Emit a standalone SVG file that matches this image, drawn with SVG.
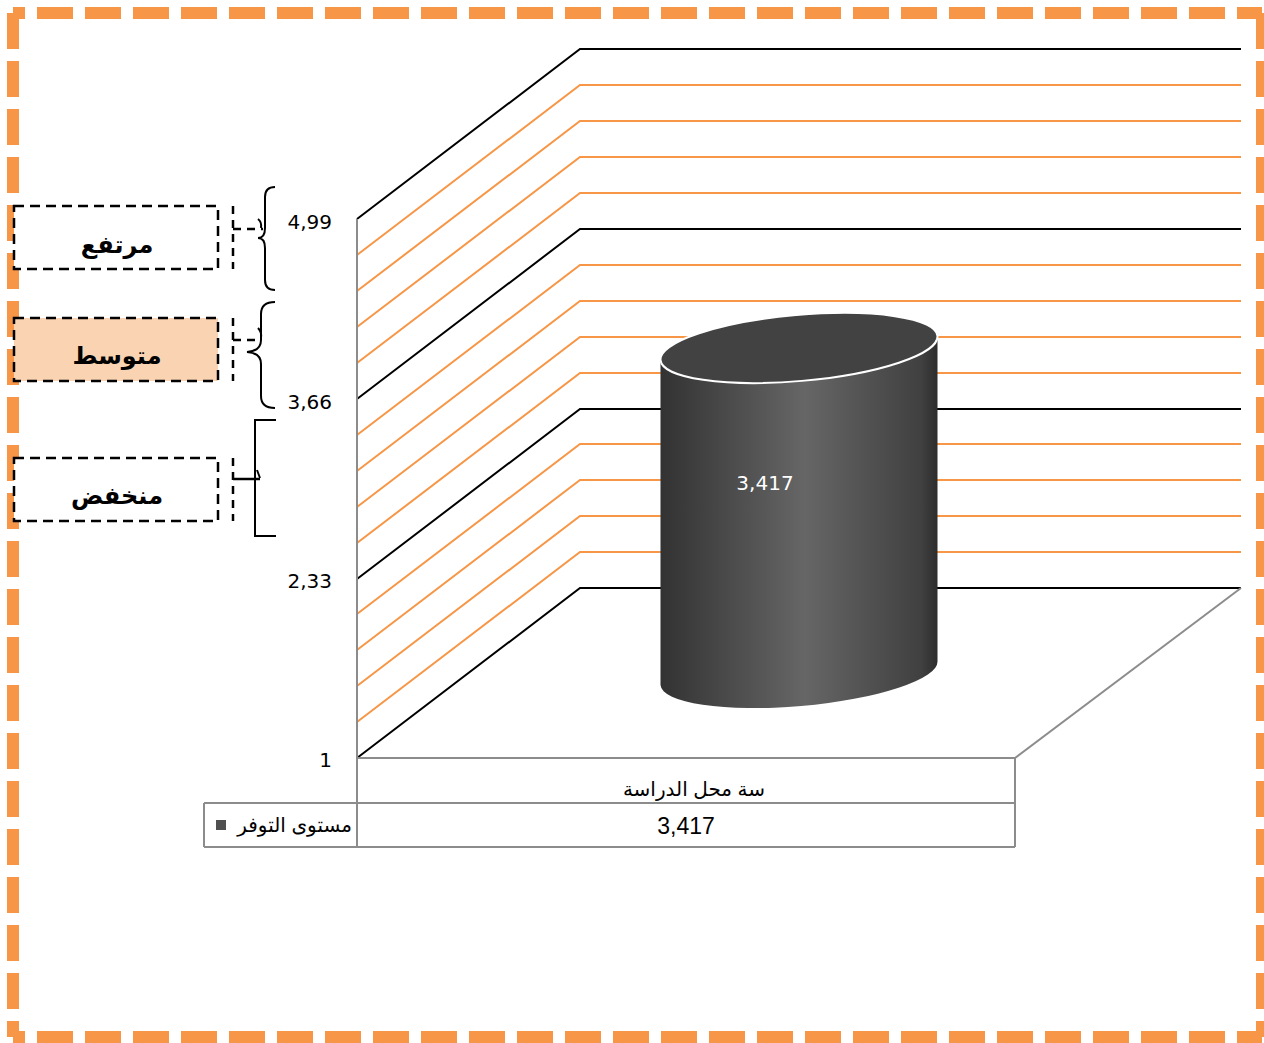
<svg xmlns="http://www.w3.org/2000/svg" width="1264" height="1043" viewBox="0 0 1264 1043">
<defs>
<style>
.frame{stroke:#F79646;stroke-width:12;fill:none;stroke-dasharray:36 12}
.gO{stroke:#F79646;stroke-width:2;fill:none}
.gK{stroke:#000;stroke-width:2;fill:none}
.gray{stroke:#8c8c8c;stroke-width:2;fill:none}
.box{stroke:#000;stroke-width:2.5;stroke-dasharray:10 6}
.dash{stroke:#000;stroke-width:2.5;stroke-dasharray:8 6;fill:none}
.br{stroke:#000;stroke-width:2;fill:none}
.ax{font-family:"DejaVu Sans",sans-serif;font-size:20px;fill:#000;text-anchor:end}
.lab{font-family:"DejaVu Sans",sans-serif;font-size:24px;font-weight:bold;fill:#000;text-anchor:middle}
.tbl{font-family:"Liberation Sans","DejaVu Sans",sans-serif;font-size:20px;fill:#000}
.num{font-family:"Liberation Sans",sans-serif;font-size:23px;fill:#000;text-anchor:middle}
</style>
<linearGradient id="cyl" gradientUnits="userSpaceOnUse" x1="660" y1="0" x2="938" y2="0">
<stop offset="0" stop-color="#323232"/>
<stop offset="0.52" stop-color="#666666"/>
<stop offset="0.94" stop-color="#404040"/>
<stop offset="1" stop-color="#2c2c2c"/>
</linearGradient>
</defs>
<rect width="1264" height="1043" fill="#fff"/>
<g id="frame">
<line class="frame" x1="13" y1="13" x2="1262" y2="13" stroke-dashoffset="24"/>
<line class="frame" x1="13" y1="13" x2="13" y2="1037"/>
<line class="frame" x1="1262" y1="13" x2="1262" y2="1037"/>
<line class="frame" x1="13" y1="1037" x2="1262" y2="1037" stroke-dashoffset="24"/>
</g>
<g id="grid">
<polyline class="gK" points="357,219 580,49 1241,49"/>
<polyline class="gO" points="357,255 580,85 1241,85"/>
<polyline class="gO" points="357,291 580,121 1241,121"/>
<polyline class="gO" points="357,327 580,157 1241,157"/>
<polyline class="gO" points="357,363 580,193 1241,193"/>
<polyline class="gK" points="357,399 580,229 1241,229"/>
<polyline class="gO" points="357,435 580,265 1241,265"/>
<polyline class="gO" points="357,471 580,301 1241,301"/>
<polyline class="gO" points="357,507 580,337 1241,337"/>
<polyline class="gO" points="357,543 580,373 1241,373"/>
<polyline class="gK" points="357,579 580,409 1241,409"/>
<polyline class="gO" points="357,614 580,444 1241,444"/>
<polyline class="gO" points="357,650 580,480 1241,480"/>
<polyline class="gO" points="357,686 580,516 1241,516"/>
<polyline class="gO" points="357,722 580,552 1241,552"/>
<polyline class="gK" points="357,758 580,588 1241,588"/>
<line class="gray" x1="357" y1="219" x2="357" y2="758"/>
<line class="gray" x1="1015" y1="758" x2="1241" y2="588"/>
</g>
<g id="axis-labels">
<text class="ax" x="332" y="229">4,99</text>
<text class="ax" x="332" y="409">3,66</text>
<text class="ax" x="332" y="588">2,33</text>
<text class="ax" x="332" y="767">1</text>
</g>
<g id="bar">
<path d="M660.5,360 L660.5,685 A139,33 -5 0 0 937.5,661 L937.5,336 Z" fill="url(#cyl)"/>
<ellipse cx="799" cy="348" rx="139" ry="33" transform="rotate(-5 799 348)" fill="#424242" stroke="#fff" stroke-width="2"/>
<text x="765" y="490" font-family="DejaVu Sans,sans-serif" font-size="20" fill="#fff" text-anchor="middle">3,417</text>
</g>
<g id="table">
<line class="gray" x1="357" y1="758" x2="1015" y2="758"/>
<line class="gray" x1="357" y1="758" x2="357" y2="847"/>
<line class="gray" x1="1015" y1="758" x2="1015" y2="847"/>
<line class="gray" x1="204" y1="803" x2="1015" y2="803"/>
<line class="gray" x1="204" y1="847" x2="1015" y2="847"/>
<line class="gray" x1="204" y1="803" x2="204" y2="847"/>
<text class="tbl" x="694" y="796" text-anchor="middle">سة  محل الدراسة</text>
<rect x="216" y="820" width="10" height="10" fill="#505050"/>
<text class="tbl" x="352" y="832" text-anchor="end">مستوى التوفر</text>
<text class="num" x="686" y="834">3,417</text>
</g>
<g id="node-high">
<rect class="box" x="14" y="206" width="204" height="63" fill="#fff"/>
<text class="lab" x="117" y="253">مرتفع</text>
</g>
<g id="node-mid">
<rect class="box" x="14" y="318" width="204" height="63" fill="#FAD4B2"/>
<text class="lab" x="117" y="364">متوسط</text>
</g>
<g id="node-low">
<rect class="box" x="14" y="458" width="204" height="63" fill="#fff"/>
<text class="lab" x="117" y="504">منخفض</text>
</g>
<g id="connectors">
<line class="dash" x1="233" y1="206" x2="233" y2="269"/>
<line class="dash" x1="233" y1="318" x2="233" y2="381"/>
<line class="dash" x1="233" y1="458" x2="233" y2="521"/>
<line class="dash" x1="233" y1="229" x2="263" y2="229"/>
<line class="dash" x1="233" y1="340" x2="259" y2="340"/>
<line stroke="#000" stroke-width="2.5" x1="233" y1="479" x2="260" y2="479"/>
<path class="br" d="M258,219 Q262,222 261,228"/>
<path class="br" d="M258,328 Q262,332 261,338"/>
<path class="br" d="M257,470 L260,478"/>
<path class="br" d="M275,187 Q265,187 265,197 L265,228 Q265,238 258,238 Q265,238 265,248 L265,280 Q265,290 275,290"/>
<path class="br" d="M275,302 Q261,302 261,314 L261,340 Q261,351 247,352 Q261,353 261,364 L261,396 Q261,408 275,408"/>
<polyline class="br" points="276,420 255,420 255,536 276,536"/>
</g>
</svg>
